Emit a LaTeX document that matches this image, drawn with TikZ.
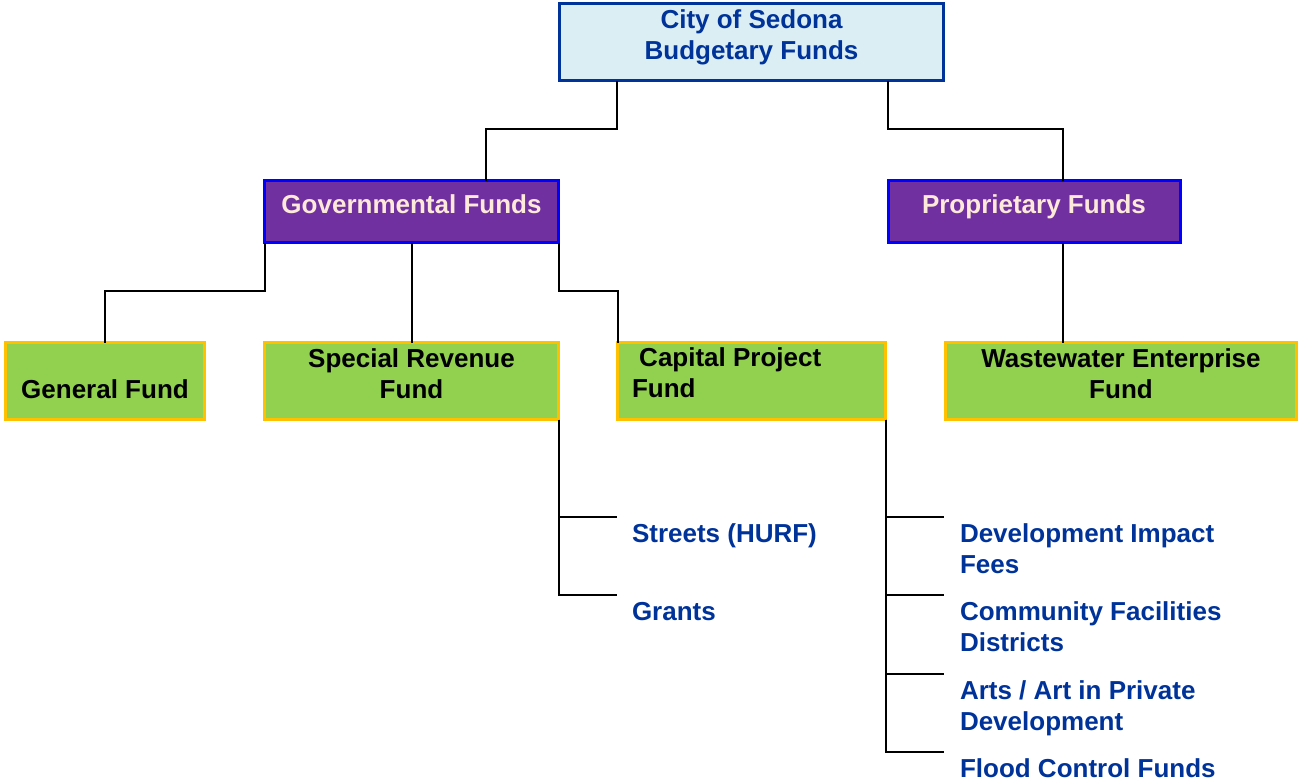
\documentclass[tikz,border=0pt]{standalone}
\usepackage{fontspec}
\setmainfont{Liberation Sans}
\definecolor{navytext}{RGB}{0,51,153}
\definecolor{topfill}{RGB}{219,238,244}
\definecolor{purplefill}{RGB}{112,48,160}
\definecolor{purpleedge}{RGB}{0,0,255}
\definecolor{peach}{RGB}{253,233,217}
\definecolor{greenfill}{RGB}{146,208,80}
\definecolor{goldedge}{RGB}{255,192,0}
\begin{document}
\begin{tikzpicture}[x=1pt,y=-1pt,
  every node/.style={inner sep=0pt, outer sep=0pt, font=\fontsize{26}{31}\selectfont\bfseries},
  box/.style={rectangle, line width=3pt, minimum width=#1},
  topbox/.style={box=384pt, minimum height=77pt, draw=navytext, fill=topfill},
  purplebox/.style={box=#1, minimum height=62pt, draw=purpleedge, fill=purplefill},
  greenbox/.style={box=#1, minimum height=77pt, draw=goldedge, fill=greenfill},
  conn/.style={line width=2pt, draw=black},
  boxtext/.style={anchor=base, align=center},
  itemtext/.style={anchor=base west, align=left, text=navytext}
]
\useasboundingbox (0,0) rectangle (1299,780);

% boxes
\node[topbox] (top) at (751.5,42) {};
\node[purplebox=294pt] (gov) at (411.5,211.5) {};
\node[purplebox=292pt] (prop) at (1034.5,211.5) {};
\node[greenbox=199pt] (general) at (105,381) {};
\node[greenbox=294pt] (special) at (411.5,381) {};
\node[greenbox=268pt] (capital) at (751.5,381) {};
\node[greenbox=351pt] (waste) at (1121,381) {};

% box labels (base anchor = baseline of the last line)
\node[boxtext, text=navytext] (toplbl) at (751.5,59) {City of Sedona\\Budgetary Funds};
\node[boxtext, text=peach] (govlbl) at (411.5,213) {Governmental Funds};
\node[boxtext, text=peach] (proplbl) at (1034,213) {Proprietary Funds};
\node[boxtext] (generallbl) at (105,398) {General Fund};
\node[boxtext] (speciallbl) at (411.5,398) {Special Revenue\\Fund};
\node[anchor=base west, align=left] (capitallbl) at (632,397) {\ Capital Project\\Fund};
\node[boxtext] (wastelbl) at (1121,398) {Wastewater Enterprise\\Fund};

% upper tree
\draw[conn] ([xshift=-134.5pt]top.south) -- ++(0,48) -| ([xshift=74.5pt]gov.north);
\draw[conn] ([xshift=136.5pt]top.south) -- ++(0,48) -| ([xshift=28.5pt]prop.north);
\draw[conn] (gov.south west) -- ++(0,48) -| (general.north);
\draw[conn] (gov.south) -- (special.north);
\draw[conn] (gov.south east) -- ++(0,48) -| (capital.north west);
\coordinate (pw) at ([xshift=28.5pt]prop.south);
\draw[conn] (pw) -- (pw |- waste.north);

% special revenue sub-funds
\coordinate (s1) at (617,517);
\coordinate (s2) at (617,595);
\node[itemtext] (streets) at (632,542) {Streets (HURF)};
\node[itemtext] (grants) at (632,620) {Grants};
\draw[conn] (special.south east) |- (s1);
\draw[conn] (special.south east) |- (s2);

% capital project sub-funds
\coordinate (c1) at (944,517);
\coordinate (c2) at (944,595);
\coordinate (c3) at (944,674);
\coordinate (c4) at (944,752);
\node[itemtext] (impact) at (960,573) {Development Impact\\Fees};
\node[itemtext] (cfd) at (960,651) {Community Facilities\\Districts};
\node[itemtext] (arts) at (960,730) {Arts / Art in Private\\Development};
\node[itemtext] (flood) at (960,777) {Flood Control Funds};
\draw[conn] (capital.south east) |- (c1);
\draw[conn] (capital.south east) |- (c2);
\draw[conn] (capital.south east) |- (c3);
\draw[conn] (capital.south east) |- (c4);
\end{tikzpicture}
\end{document}
